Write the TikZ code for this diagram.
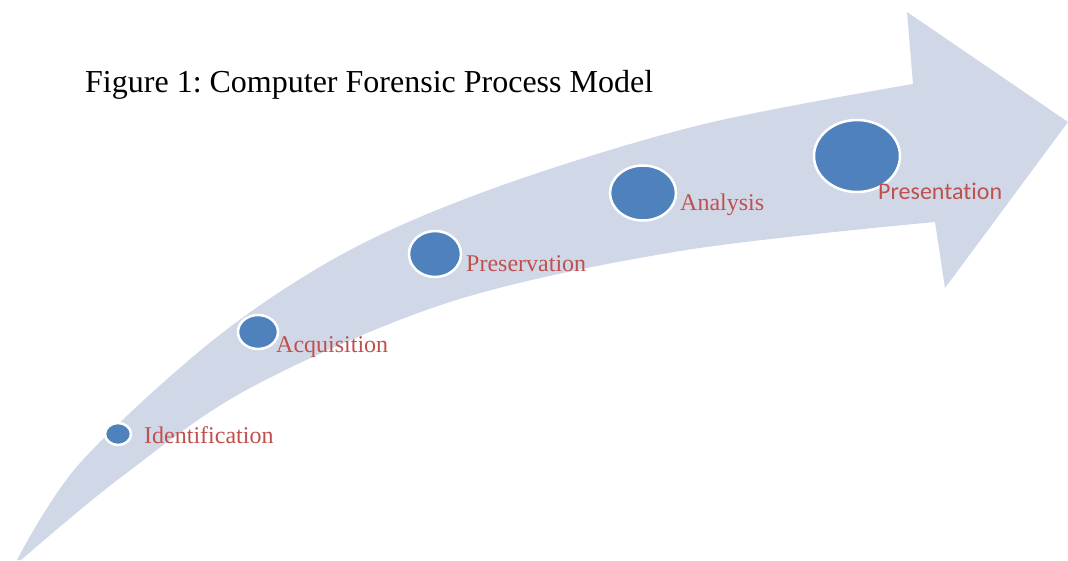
\documentclass[tikz,border=0pt]{standalone}
\usepackage{fontspec}
\setmainfont{Liberation Serif}
\newfontfamily\labsans[Ligatures=NoCommon]{Carlito}
\usetikzlibrary{shapes.geometric}
\definecolor{bandcol}{RGB}{208,216,232}
\definecolor{dotcol}{RGB}{79,129,189}
\definecolor{labcol}{RGB}{192,80,77}
\tikzset{
  band/.style={fill=bandcol},
  dot/.style={ellipse, fill=dotcol, draw=white, line width=2.5pt, inner sep=0pt},
  lab/.style={anchor=base west, inner sep=0pt, text=labcol, font=\fontsize{24}{28}\selectfont},
  sanslab/.style={lab, font=\labsans\fontsize{24}{28}\selectfont},
  titletext/.style={anchor=base west, inner sep=0pt, text=black, font=\fontsize{32}{38}\selectfont}
}
\frenchspacing
\begin{document}
\begin{tikzpicture}[x=1pt,y=-1pt]
\useasboundingbox (0,0) rectangle (1068,560);
\fill[white] (0,0) rectangle (1068,560);
% curved arrow
\fill[band] plot[smooth, tension=0.55] coordinates {(17,560) (80,463) (217,337) (350,250) (500,186) (700,125) (913,84)}
  -- (907,12) -- (1068,122) -- (945,288) -- (935,222)
  -- plot[smooth, tension=0.55] coordinates {(935,222) (680,251) (450,302) (250,388) (120,478) (21,560)}
  -- cycle;
% title
\node[titletext] (title) at (85,92) {Figure 1: Computer Forensic Process Model};
% circles
\node[dot, minimum width=26pt, minimum height=22pt] (c1) at (118,434) {};
\node[dot, minimum width=40pt, minimum height=34pt] (c2) at (258,332) {};
\node[dot, minimum width=52pt, minimum height=46pt] (c3) at (435,254) {};
\node[dot, minimum width=66pt, minimum height=55pt] (c4) at (643,193) {};
\node[dot, minimum width=86pt, minimum height=72pt] (c5) at (857,156) {};
% labels
\node[lab] (l1) at (144,443) {Identification};
\node[lab] (l2) at (276,352) {Acquisition};
\node[lab] (l3) at (466,271) {Preservation};
\node[lab] (l4) at (680,210) {Analysis};
\node[sanslab] (l5) at (878,199) {Presentation};
\end{tikzpicture}
\end{document}
